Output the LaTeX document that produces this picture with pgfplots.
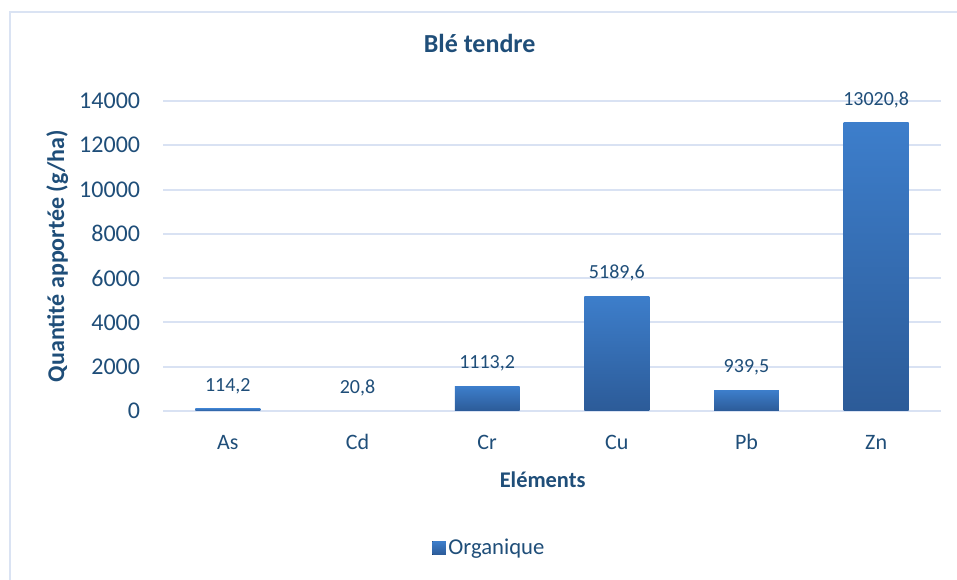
\documentclass[border=0pt]{standalone}
\usepackage{pgfplots}
\pgfplotsset{compat=1.18}
\usepackage{fontspec}
\setmainfont{Carlito}
\definecolor{txt}{HTML}{1F4E79}
\definecolor{gridc}{HTML}{D9E2F3}
\definecolor{frame}{HTML}{DAE3F3}
\definecolor{bartop}{HTML}{3D7ECB}
\definecolor{barbot}{HTML}{2C5B98}
\pgfplotsset{mybar/.style={ybar, bar width=0.5, bar shift=0pt, draw=none, top color=bartop, bottom color=barbot, mark=none}}
\begin{document}
\begin{tikzpicture}
\useasboundingbox (0pt,0pt) rectangle (717.75pt,435pt);
\fill[white] (0pt,0pt) rectangle (717.75pt,435pt);
\draw[frame, line width=1.5pt] (7.5pt,0pt) -- (7.5pt,426pt) -- (717.75pt,426pt);
\begin{axis}[
  at={(122.25pt,126.75pt)}, anchor=south west,
  scale only axis,
  width=583.5pt, height=232.5pt,
  xmin=-0.5, xmax=5.5,
  ymin=0, ymax=14000,
  ytick={0,2000,...,14000},
  xtick={0,...,5},
  xticklabels={As,Cd,Cr,Cu,Pb,Zn},
  /pgf/number format/assume math mode=true,
  /pgf/number format/set thousands separator={},
  scaled y ticks=false,
  axis line style={draw=none},
  major tick length=0pt,
  ymajorgrids,
  grid style={gridc, line width=1.5pt},
  yticklabel style={font=\fontsize{18}{20}\selectfont, color=txt, anchor=east, inner sep=0pt, xshift=-17pt},
  xticklabel style={font=\fontsize{16.5}{18}\selectfont, color=txt, anchor=base, inner sep=0pt, yshift=-29pt},
  title={\textbf{Blé tendre}},
  title style={font=\fontsize{19.5}{22}\selectfont, color=txt, at={(axis description cs:0.407,1)}, anchor=center, yshift=37.5pt},
  ylabel={\textbf{Quantité apportée (g/ha)}},
  ylabel style={font=\fontsize{18}{20}\selectfont, color=txt, at={(axis description cs:-0.136,0.5)}, anchor=center},
  xlabel={\textbf{Eléments}},
  xlabel style={font=\fontsize{16.8}{19}\selectfont, color=txt, at={(axis description cs:0.488,-0.223)}, anchor=center},
  legend style={at={(axis description cs:0.42,-0.442)}, anchor=center, draw=none, fill=none, font=\fontsize{17}{19}\selectfont, text=txt, inner sep=0pt},
  legend image code/.code={\fill[top color=bartop, bottom color=barbot] (0pt,-5pt) rectangle (10pt,5pt);},
  legend cell align=left,
  nodes near coords,
  point meta=explicit symbolic,
  every node near coord/.append style={font=\fontsize{15}{17}\selectfont, color=txt, anchor=center, yshift=17pt},
  clip=false,
]
\addplot[mybar] coordinates {(0,114.2) [114,2]};
\addlegendentry{Organique}
\addplot[mybar] coordinates {(1,20.8) [20,8]};
\addplot[mybar] coordinates {(2,1113.2) [1113,2]};
\addplot[mybar] coordinates {(3,5189.6) [5189,6]};
\addplot[mybar] coordinates {(4,939.5) [939,5]};
\addplot[mybar] coordinates {(5,13020.8) [13020,8]};
\end{axis}
\end{tikzpicture}
\end{document}
